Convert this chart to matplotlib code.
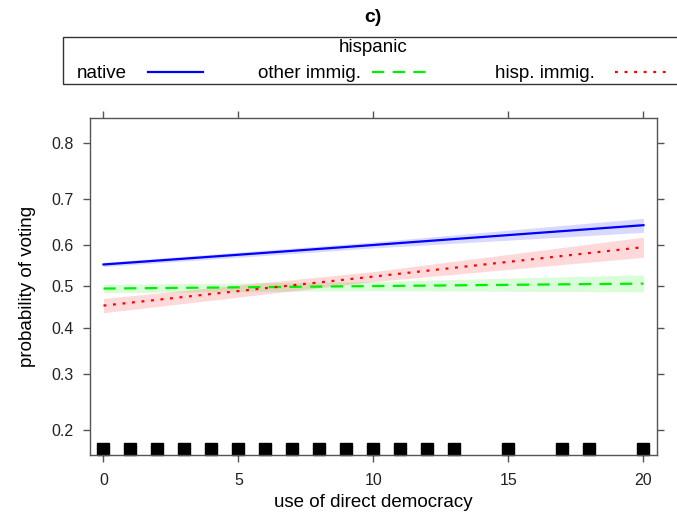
#!/usr/bin/env python3
"""Effect plot c): probability of voting vs use of direct democracy, by hispanic group."""
import matplotlib
matplotlib.use('Agg')
import matplotlib.pyplot as plt
from matplotlib.lines import Line2D
from matplotlib.patches import Rectangle
import matplotlib.transforms as mtransforms

plt.rcParams['font.family'] = ['Liberation Sans', 'DejaVu Sans']

# ── Data ───────────────────────────────────────────────────────
x_dd = [0, 10, 20]
groups = ['native', 'other immig.', 'hisp. immig.']

native_fit = [0.553, 0.599, 0.644]
native_lo = [0.548, 0.592, 0.628]
native_hi = [0.558, 0.606, 0.659]

other_fit = [0.495, 0.501, 0.507]
other_lo = [0.485, 0.490, 0.487]
other_hi = [0.505, 0.512, 0.528]

hisp_fit = [0.454, 0.524, 0.594]
hisp_lo = [0.437, 0.512, 0.570]
hisp_hi = [0.471, 0.536, 0.617]

# observed values of direct democracy use (rug)
rug_x = [0, 1, 2, 3, 4, 5, 6, 7, 8, 9, 10, 11, 12, 13, 15, 17, 18, 20]

y_ticks = [0.2, 0.3, 0.4, 0.5, 0.6, 0.7, 0.8]
x_ticks = [0, 5, 10, 15, 20]

# ── Styles ──────────────────────────────────────────────────────
colors = ['#0000ff', '#00ee00', '#ff0000']
styles = ['-', (0, (5.5, 3.8)), (0, (1.3, 3.0))]
fits = [native_fit, other_fit, hisp_fit]
los = [native_lo, other_lo, hisp_lo]
his = [native_hi, other_hi, hisp_hi]
frame_col = '#555555'
FS = 13.5

fig = plt.figure(figsize=(6.77, 5.23), dpi=100)
ax = fig.add_axes([0.1329, 0.130, 0.8375, 0.6444])
ax.set_yscale('logit')

for fit, lo, hi, col, ls in zip(fits, los, his, colors, styles):
    ax.fill_between(x_dd, lo, hi, color=col, alpha=0.15, linewidth=0)
    ax.plot(x_dd, fit, color=col, linestyle=ls, linewidth=1.6)

trans = mtransforms.blended_transform_factory(ax.transData, ax.transAxes)
ax.plot(rug_x, [0.018] * len(rug_x), 's', color='black', markersize=8.5,
        transform=trans, clip_on=False)

ax.set_xlim(-0.5, 20.5)
ax.set_ylim(0.164, 0.836)
ax.set_xticks(x_ticks)
ax.set_xticklabels([str(t) for t in x_ticks])
ax.set_yticks(y_ticks)
ax.set_yticklabels([f'{t:.1f}' for t in y_ticks])
ax.yaxis.set_minor_locator(matplotlib.ticker.NullLocator())
ax.yaxis.set_minor_formatter(matplotlib.ticker.NullFormatter())

ax.tick_params(direction='out', length=5, width=1.0, color=frame_col,
               labelsize=11.5, labelcolor='#222222', top=True, right=True)
ax.tick_params(axis='y', pad=7)
ax.tick_params(axis='x', pad=8)
for sp in ax.spines.values():
    sp.set_color(frame_col)
    sp.set_linewidth(1.0)

ax.set_xlabel('use of direct democracy', fontsize=FS, labelpad=4.5)
ax.set_ylabel('probability of voting', fontsize=FS)
ax.yaxis.set_label_coords(-0.095, 0.5)

# ── Title and legend box (lattice style, above the panel) ──────
W, H = 677, 523
fx = lambda px: px / W
fy = lambda py: 1 - py / H

fig.text(fx(373), fy(17), 'c)', fontsize=14, fontweight='bold',
         ha='center', va='center')
fig.patches.append(Rectangle((fx(63), fy(84)), fx(620), (84 - 37) / H,
                             transform=fig.transFigure, fill=False,
                             edgecolor='#333333', linewidth=1.0))
fig.text(fx(373), fy(47), 'hispanic', fontsize=FS, ha='center', va='center')

text_x = [77, 258, 495]
line_x = [(148, 203), (372, 430), (615, 670)]
for name, tx, (l0, l1), col, ls in zip(groups, text_x, line_x, colors, styles):
    fig.text(fx(tx), fy(74), name, fontsize=FS, ha='left', va='center')
    fig.lines.append(Line2D([fx(l0), fx(l1)], [fy(72), fy(72)],
                            transform=fig.transFigure, color=col,
                            linestyle=ls, linewidth=1.6))

fig.savefig('out.png', dpi=100)
